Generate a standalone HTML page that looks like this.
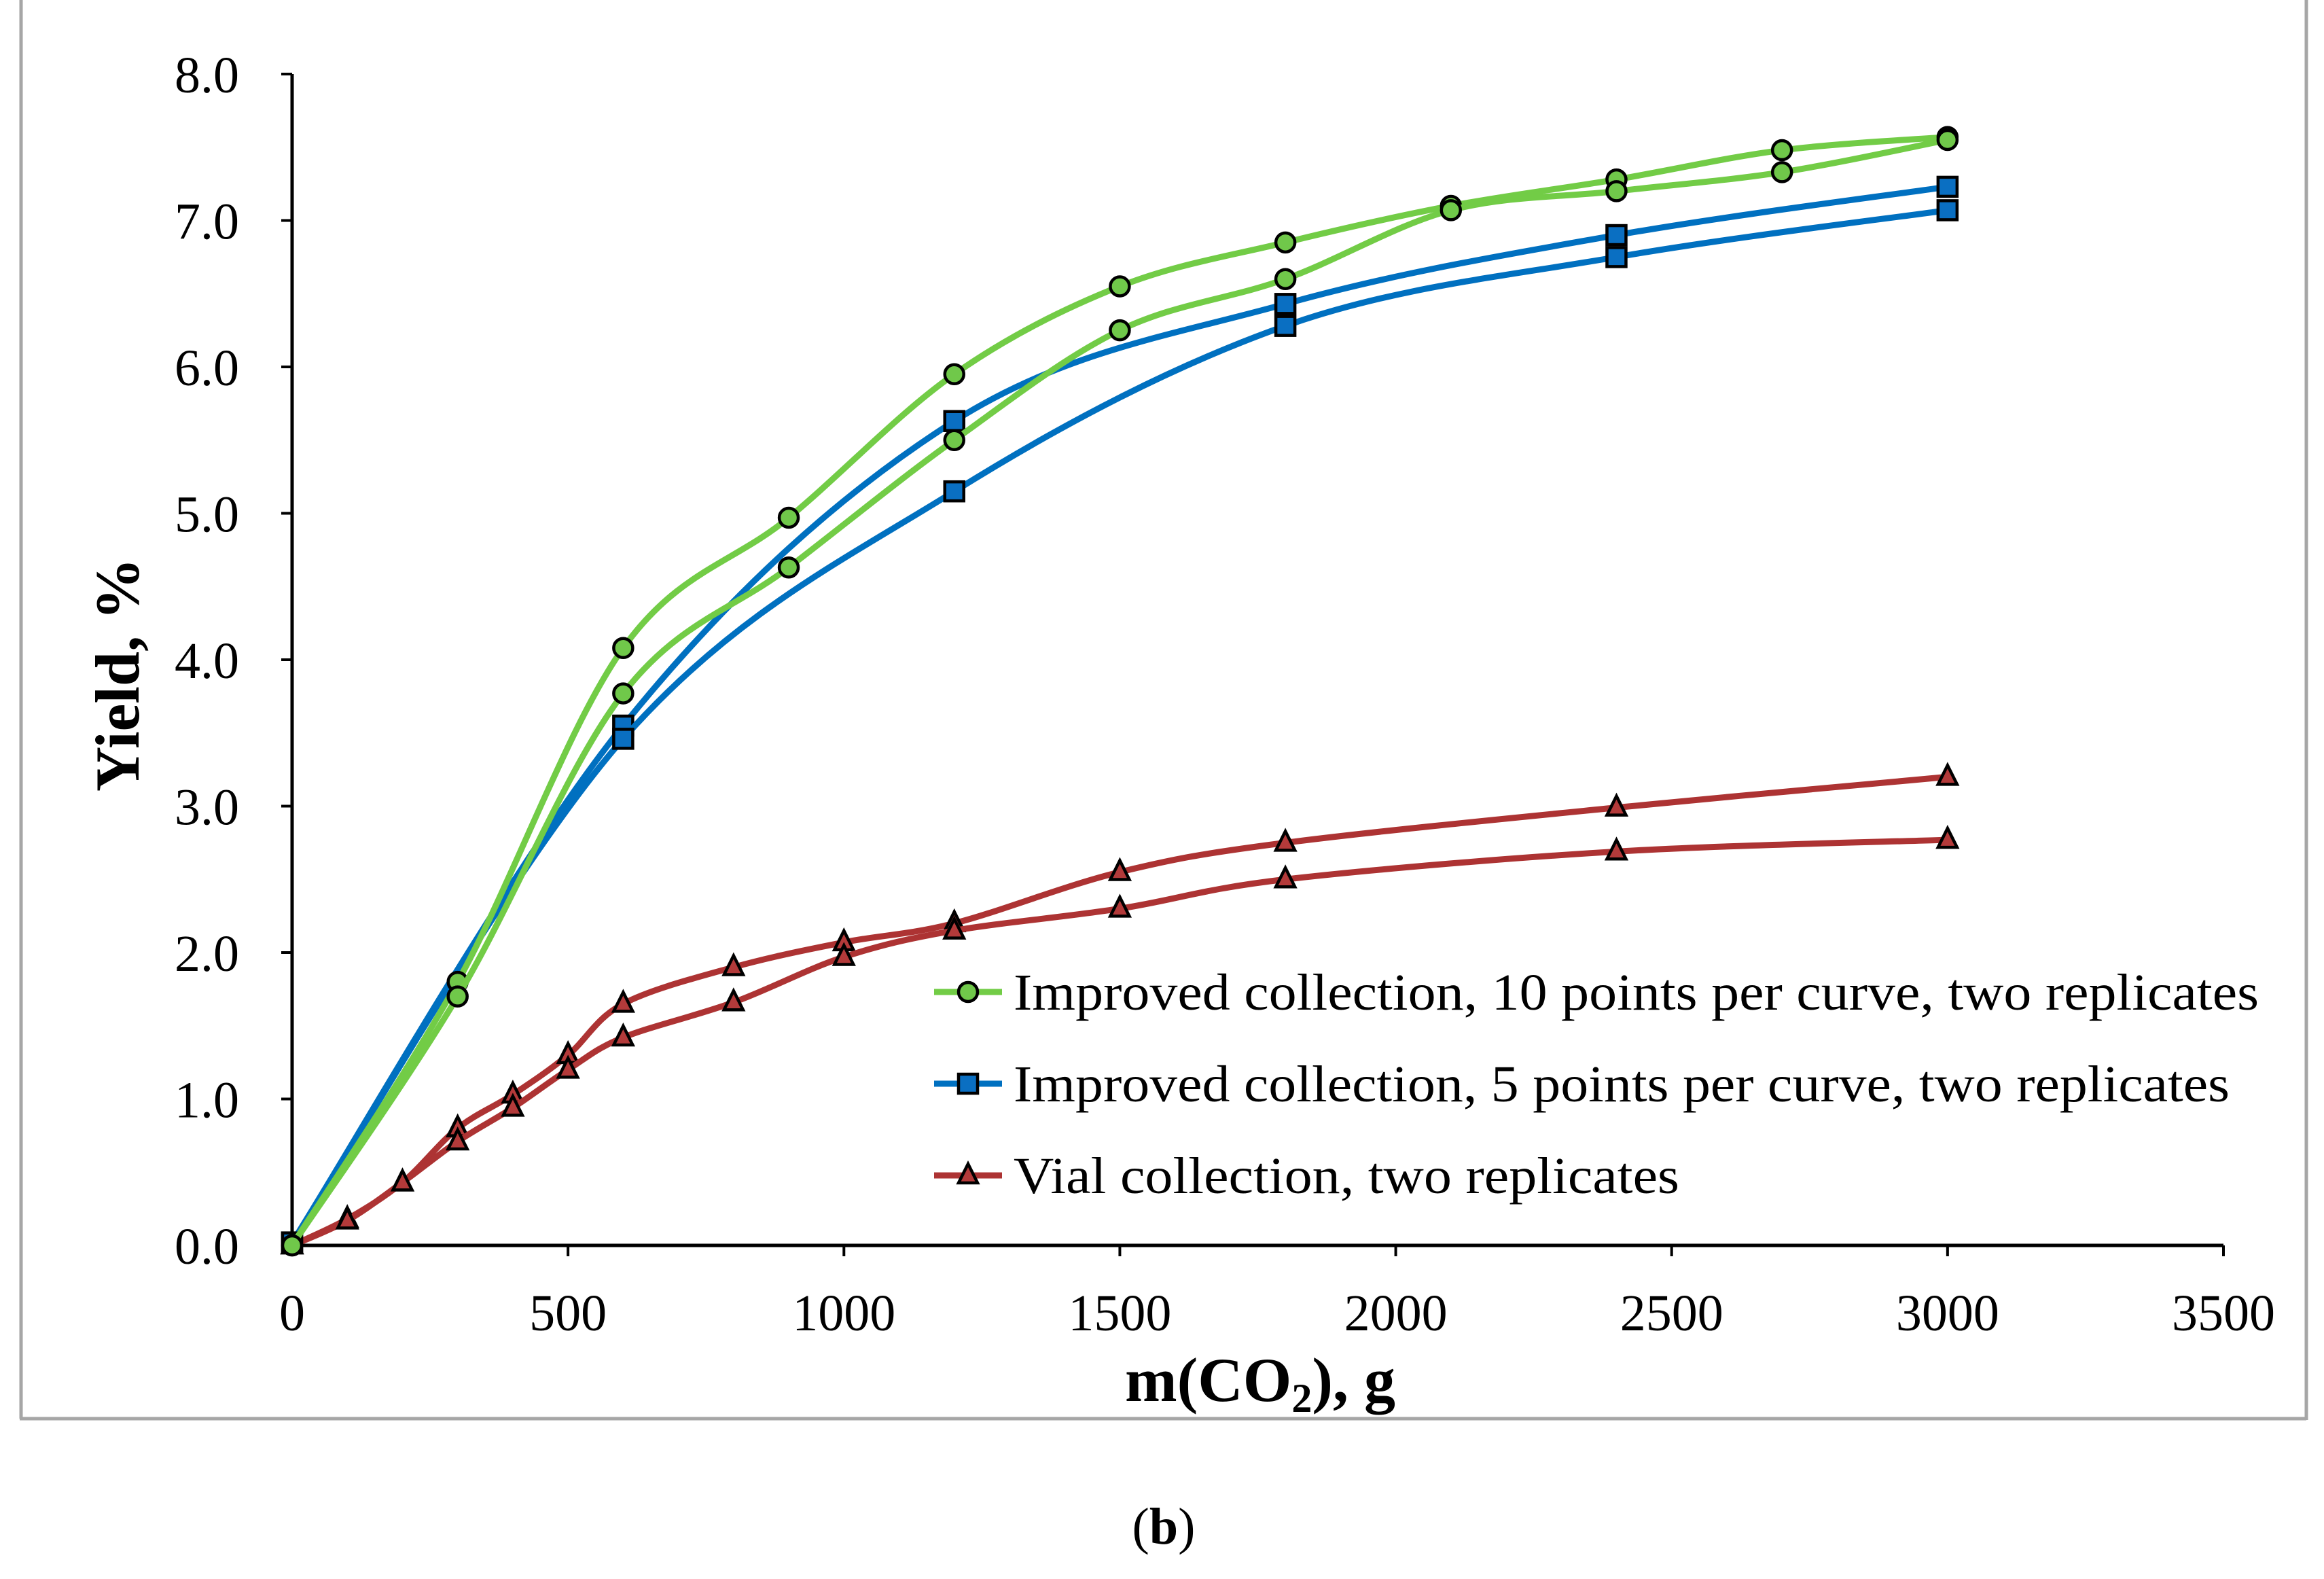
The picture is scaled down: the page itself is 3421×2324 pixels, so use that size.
<!DOCTYPE html>
<html><head><meta charset="utf-8"><style>
html,body{margin:0;padding:0;background:#fff;}
svg{display:block;font-family:"Liberation Serif",serif;}
</style></head><body>
<svg id="chart" width="3421" height="2324" viewBox="0 0 3421 2324" xmlns="http://www.w3.org/2000/svg">
<rect x="0" y="0" width="3421" height="2324" fill="#fff"/>
<g stroke="#a6a6a6" stroke-width="5" fill="none">
<line x1="31" y1="0" x2="31" y2="2088"/>
<line x1="29" y1="2088" x2="3395" y2="2088"/>
<line x1="3395" y1="0" x2="3395" y2="2090"/>
</g>
<g id="axes"></g>
<g id="series"></g>
<g id="legend"></g>
<text x="0" y="0" transform="translate(204,993) rotate(-90)" text-anchor="middle" font-size="92" font-weight="bold">Yield, %</text>
<text x="1855" y="2062" text-anchor="middle" font-size="92" font-weight="bold">m(CO<tspan font-size="60" dy="16">2</tspan><tspan dy="-16">), g</tspan></text>
<text x="1713" y="2272" text-anchor="middle" font-size="76">(<tspan font-weight="bold">b</tspan>)</text>
</svg>
<script>
const xTicks=[0,500,1000,1500,2000,2500,3000,3500];
const yTicks=[0,1,2,3,4,5,6,7,8];
const green1X=[0,300,600,900,1200,1500,1800,2100,2400,2700,3000];
const green1Y=[0,1.8,4.08,4.97,5.95,6.55,6.85,7.1,7.28,7.48,7.57];
const green2X=[0,300,600,900,1200,1500,1800,2100,2400,2700,3000];
const green2Y=[0,1.7,3.77,4.63,5.5,6.25,6.6,7.07,7.2,7.33,7.55];
const blue1X=[0,600,1200,1800,2400,3000];
const blue1Y=[0.02,3.55,5.63,6.43,6.9,7.23];
const blue2X=[0,600,1200,1800,2400,3000];
const blue2Y=[0.02,3.46,5.15,6.28,6.75,7.07];
const red1X=[0,100,200,300,400,500,600,800,1000,1200,1500,1800,2400,3000];
const red1Y=[0,0.18,0.43,0.8,1.03,1.3,1.65,1.9,2.07,2.2,2.55,2.75,2.99,3.2];
const red2X=[0,100,200,300,400,500,600,800,1000,1200,1500,1800,2400,3000];
const red2Y=[0,0.17,0.43,0.71,0.94,1.2,1.42,1.66,1.97,2.15,2.3,2.5,2.69,2.77];
const legendLabels=["Improved collection,  10 points per curve, two replicates","Improved collection,  5 points per curve, two replicates","Vial collection,  two replicates"];

const NS="http://www.w3.org/2000/svg";
const X0=430,X1=3273,Y0=1833,Y1=109;
const sx=v=>X0+(v-0)/(3500-0)*(X1-X0);
const sy=v=>Y0-(v-0)/(8-0)*(Y0-Y1);
function mk(tag,attrs,parent){const e=document.createElementNS(NS,tag);for(const k in attrs)e.setAttribute(k,attrs[k]);parent.appendChild(e);return e;}
const axes=document.getElementById('axes');
let l=mk('line',{x1:X0,y1:Y1,x2:X0,y2:Y0+2,stroke:'#000','stroke-width':5},axes);


l=mk('line',{x1:X0-2,y1:Y0,x2:X1,y2:Y0,stroke:'#000','stroke-width':5},axes);


yTicks.forEach(v=>{
 const t=mk('line',{x1:X0-16,y1:sy(v),x2:X0,y2:sy(v),stroke:'#000','stroke-width':4},axes);
 
 
 const tx=mk('text',{x:352,y:sy(v)+27,'text-anchor':'end','font-size':76},axes);
 tx.textContent=v.toFixed(1);
 
 
});
xTicks.forEach(v=>{
 const t=mk('line',{x1:sx(v),y1:Y0,x2:sx(v),y2:Y0+16,stroke:'#000','stroke-width':4},axes);
 
 
 const tx=mk('text',{x:sx(v),y:1958,'text-anchor':'middle','font-size':76},axes);
 tx.textContent=String(v);
 
 
});
function smooth(pts){
 let d='M'+pts[0][0]+','+pts[0][1];
 for(let i=0;i<pts.length-1;i++){
  const p0=pts[Math.max(i-1,0)],p1=pts[i],p2=pts[i+1],p3=pts[Math.min(i+2,pts.length-1)];
  const c1=[p1[0]+(p2[0]-p0[0])/6,p1[1]+(p2[1]-p0[1])/6];
  const c2=[p2[0]-(p3[0]-p1[0])/6,p2[1]-(p3[1]-p1[1])/6];
  d+=' C'+c1[0]+','+c1[1]+' '+c2[0]+','+c2[1]+' '+p2[0]+','+p2[1];
 }
 return d;
}
function marker(shape,x,y,fill,g){
 let e;
 if(shape==='circle')e=mk('circle',{cx:x,cy:y,r:14,fill:fill,stroke:'#000','stroke-width':4.5},g);
 else if(shape==='square')e=mk('rect',{x:x-14,y:y-14,width:28,height:28,fill:fill,stroke:'#000','stroke-width':4.5},g);
 else e=mk('polygon',{points:(x)+','+(y-17)+' '+(x+14)+','+(y+11)+' '+(x-14)+','+(y+11),fill:fill,stroke:'#000','stroke-width':4.5,'stroke-linejoin':'miter'},g);
 return e;
}
const seriesG=document.getElementById('series');
const defs=[
 ['red-replicate-1',red1X,red1Y,'#ad3333','#b33a3a','triangle'],
 ['red-replicate-2',red2X,red2Y,'#ad3333','#b33a3a','triangle'],
 ['blue-replicate-1',blue1X,blue1Y,'#0070c0','#0a6fc2','square'],
 ['blue-replicate-2',blue2X,blue2Y,'#0070c0','#0a6fc2','square'],
 ['green-replicate-1',green1X,green1Y,'#72cc46','#70c84a','circle'],
 ['green-replicate-2',green2X,green2Y,'#72cc46','#70c84a','circle']
];
defs.forEach(([name,xs,ys,lc,mc,shape])=>{
 const g=mk('g',{},seriesG);
 
 
 const pts=xs.map((x,i)=>[sx(x),sy(ys[i])]);
 const p=mk('path',{d:smooth(pts),fill:'none',stroke:lc,'stroke-width':9,'stroke-linecap':'round'},g);
 
 
 pts.forEach(pt=>{
  const m=marker(shape,pt[0],pt[1],mc,g);
  
  
 });
});
const legG=document.getElementById('legend');
const legStyles=[['#72cc46','#70c84a','circle'],['#0070c0','#0a6fc2','square'],['#ad3333','#b33a3a','triangle']];
const legY=[1460,1595,1730];
const legW=[1833,1790,980];
legendLabels.forEach((lab,i)=>{
 const g=mk('g',{},legG);
 
 
 const [lc,mc,shape]=legStyles[i];
 mk('line',{x1:1375,y1:legY[i],x2:1475,y2:legY[i],stroke:lc,'stroke-width':9},g);
 marker(shape,1425,legY[i],mc,g);
 const t=mk('text',{x:1492,y:legY[i]+26,'font-size':76,textLength:legW[i],lengthAdjust:'spacingAndGlyphs'},g);
 t.textContent=lab;
 
 
});
</script>
</body></html>
